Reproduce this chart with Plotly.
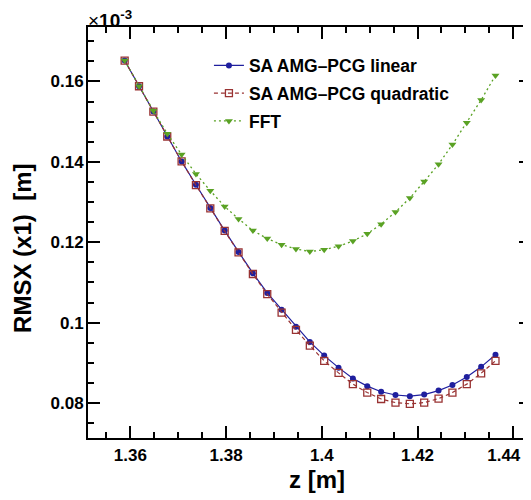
import plotly.graph_objects as go

z = [1.3588, 1.3618, 1.3648, 1.3677, 1.3707, 1.3737, 1.3767, 1.3797, 1.3826,
     1.3856, 1.3886, 1.3916, 1.3946, 1.3975, 1.4005, 1.4035, 1.4065, 1.4095,
     1.4124, 1.4154, 1.4184, 1.4214, 1.4244, 1.4273, 1.4303, 1.4333, 1.4363]

rms_linear = [0.1652, 0.1588, 0.1525, 0.1463, 0.1401, 0.1343, 0.1285, 0.1229,
              0.1176, 0.1123, 0.1074, 0.1032, 0.0990, 0.0952, 0.0918, 0.0888,
              0.0861, 0.0842, 0.0828, 0.0820, 0.0817, 0.0821, 0.0831, 0.0845,
              0.0865, 0.0890, 0.0920]

rms_quadratic = [0.1652, 0.1588, 0.1525, 0.1463, 0.1401, 0.1342, 0.1284, 0.1228,
                 0.1175, 0.1121, 0.1071, 0.1025, 0.0982, 0.0943, 0.0905, 0.0875,
                 0.0847, 0.0826, 0.0810, 0.0801, 0.0798, 0.0801, 0.0811, 0.0826,
                 0.0847, 0.0874, 0.0905]

rms_fft = [0.1652, 0.1588, 0.1527, 0.1470, 0.1418, 0.1370, 0.1328, 0.1289,
           0.1258, 0.1229, 0.1209, 0.1194, 0.1183, 0.1177, 0.1181, 0.1190,
           0.1203, 0.1221, 0.1245, 0.1275, 0.1310, 0.1351, 0.1394, 0.1443,
           0.1497, 0.1554, 0.1615]

series_names = ["SA AMG–PCG linear", "SA AMG–PCG quadratic", "FFT"]

x_ticks = [1.36, 1.38, 1.40, 1.42, 1.44]
x_ticktext = ["1.36", "1.38", "1.4", "1.42", "1.44\u00a0\u00a0\u00a0\u00a0"]
y_ticks = [0.08, 0.10, 0.12, 0.14, 0.16]
y_ticktext = ["0.08", "0.1", "0.12", "0.14", "0.16"]

FONT = "Liberation Sans, Arial, Helvetica, sans-serif"

fig = go.Figure()
fig.add_trace(go.Scatter(
    x=z, y=rms_linear, name=series_names[0], mode="lines+markers",
    line=dict(color="#1f1f9e", width=1.2),
    marker=dict(symbol="circle", size=6, color="#1f1f9e"),
    legendgroup="a"))
fig.add_trace(go.Scatter(
    x=z, y=rms_quadratic, name=series_names[1], mode="lines+markers",
    line=dict(color="#993333", width=1.2, dash="4px,3px"),
    marker=dict(symbol="square-open", size=7, color="#993333",
                line=dict(width=1.3, color="#993333")),
    legendgroup="b"))
fig.add_trace(go.Scatter(
    x=z, y=rms_fft, name=series_names[2], mode="lines+markers",
    line=dict(color="#5aa224", width=1.3, dash="2px,3px"),
    marker=dict(symbol="triangle-down", size=7, color="#5aa224"),
    legendgroup="c"))

axis_common = dict(
    showline=True, linecolor="black", linewidth=2, mirror="ticks",
    ticks="inside", ticklen=12, tickwidth=1.5, tickcolor="black",
    showgrid=False, zeroline=False, automargin=False,
    ticklabeloverflow="allow",
    tickfont=dict(family=FONT, size=17, color="black", weight="bold"),
)

fig.update_xaxes(
    range=[1.35114, 1.44372], tickvals=x_ticks, ticktext=x_ticktext,
    minor=dict(ticks="inside", ticklen=6, tickwidth=1.5, tickcolor="black",
               dtick=0.005, tick0=1.36, showgrid=False),
    ticklabelstandoff=1,
    **axis_common)
fig.update_yaxes(
    range=[0.0713, 0.17354], tickvals=y_ticks, ticktext=y_ticktext,
    minor=dict(ticks="inside", ticklen=6, tickwidth=1.5, tickcolor="black",
               dtick=0.005, tick0=0.08, showgrid=False),
    ticklabelstandoff=-1,
    **axis_common)

# page body adds an 8px margin, so the figure is 8px smaller than the window
fig.update_layout(
    width=523, height=492,
    margin=dict(l=80, r=0, t=19, b=62),
    plot_bgcolor="white", paper_bgcolor="white",
    showlegend=True,
    legend=dict(x=0.273, y=0.950, xanchor="left", yanchor="top",
                bgcolor="rgba(0,0,0,0)", tracegroupgap=2,
                font=dict(family=FONT, size=17.5, color="black", weight="bold")),
    annotations=[
        dict(text="z [m]", xref="paper", yref="paper", x=0.518, y=-0.1,
             xanchor="center", yanchor="middle", showarrow=False,
             font=dict(family=FONT, size=24, color="black", weight="bold")),
        dict(text="RMSX (x1)  [m]", xref="paper", yref="paper", x=-0.1495, y=0.462,
             xanchor="center", yanchor="middle", showarrow=False, textangle=-90,
             font=dict(family=FONT, size=24, color="black", weight="bold")),
        dict(text="×<b>10<sup>-3</sup></b>", xref="paper", yref="paper",
             x=-0.004, y=1.019, xanchor="left", yanchor="middle", showarrow=False,
             font=dict(family=FONT, size=19, color="black")),
    ],
)

fig.write_html("out.html")
